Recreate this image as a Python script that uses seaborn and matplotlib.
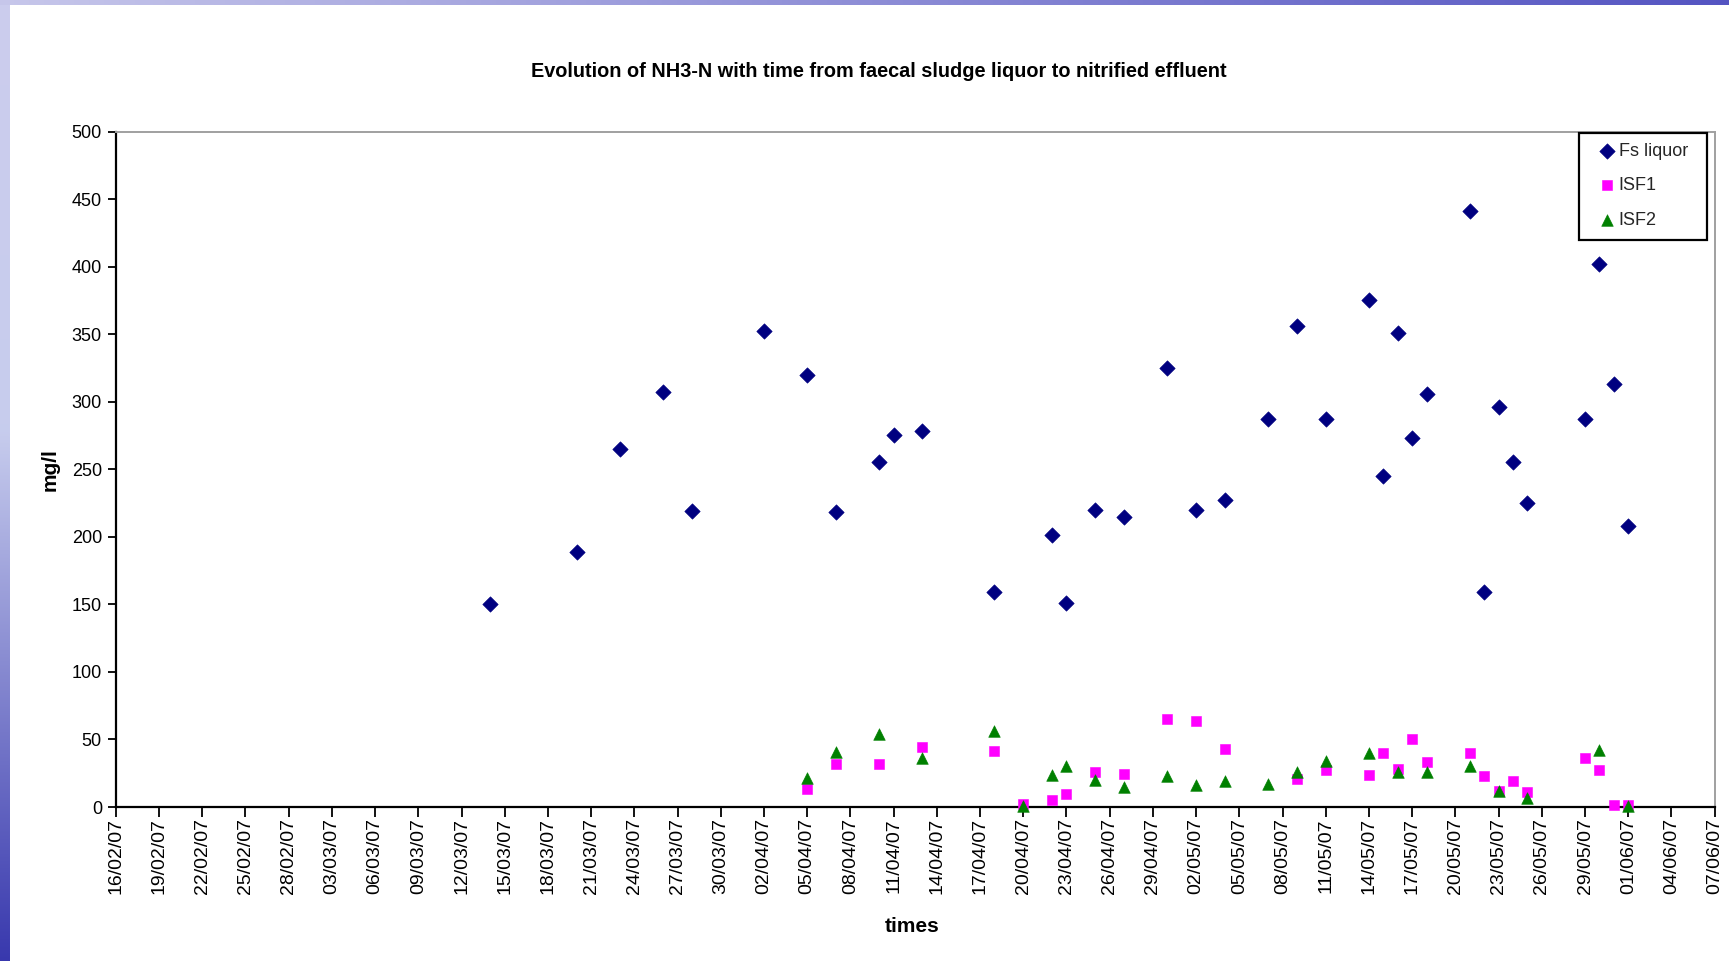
import numpy as np
import pandas as pd
import matplotlib
matplotlib.use("Agg")
import matplotlib.pyplot as plt
import matplotlib.dates as mdates
from matplotlib.patches import Rectangle
import seaborn as sns

# ---------------- data ----------------
fs_dates = ['2007-03-14', '2007-03-20', '2007-03-23', '2007-03-26', '2007-03-28',
            '2007-04-02', '2007-04-05', '2007-04-07', '2007-04-10', '2007-04-11',
            '2007-04-13', '2007-04-18', '2007-04-22', '2007-04-23', '2007-04-25',
            '2007-04-27', '2007-04-30', '2007-05-02', '2007-05-04', '2007-05-07',
            '2007-05-09', '2007-05-11', '2007-05-14', '2007-05-15', '2007-05-16',
            '2007-05-17', '2007-05-18', '2007-05-21', '2007-05-22', '2007-05-23',
            '2007-05-24', '2007-05-25', '2007-05-29', '2007-05-30', '2007-05-31',
            '2007-06-01']
fs_values = [150, 189, 265, 307, 219,
             352, 320, 218, 255, 275,
             278, 159, 201, 151, 220,
             215, 325, 220, 227, 287,
             356, 287, 375, 245, 351,
             273, 306, 441, 159, 296,
             255, 225, 287, 402, 313,
             208]

isf1_dates = ['2007-04-05', '2007-04-07', '2007-04-10', '2007-04-13', '2007-04-18',
              '2007-04-20', '2007-04-22', '2007-04-23', '2007-04-25', '2007-04-27',
              '2007-04-30', '2007-05-02', '2007-05-04', '2007-05-09', '2007-05-11',
              '2007-05-14', '2007-05-15', '2007-05-16', '2007-05-17', '2007-05-18',
              '2007-05-21', '2007-05-22', '2007-05-23', '2007-05-24', '2007-05-25',
              '2007-05-29', '2007-05-30', '2007-05-31', '2007-06-01']
isf1_values = [13.5, 32, 32, 44.5, 41.5,
               2, 5.5, 9.5, 26, 24.5,
               65.5, 64, 43, 20.5, 27.5,
               23.5, 40, 28, 50, 33.5,
               40, 23, 11.5, 19, 11,
               36, 27.5, 1.5, 1.5]

isf2_dates = ['2007-04-05', '2007-04-07', '2007-04-10', '2007-04-13', '2007-04-18',
              '2007-04-20', '2007-04-22', '2007-04-23', '2007-04-25', '2007-04-27',
              '2007-04-30', '2007-05-02', '2007-05-04', '2007-05-07', '2007-05-09',
              '2007-05-11', '2007-05-14', '2007-05-16', '2007-05-18', '2007-05-21',
              '2007-05-23', '2007-05-25', '2007-05-30', '2007-06-01']
isf2_values = [21.5, 41, 54, 36, 56,
               1, 24, 30, 20, 14.5,
               23, 16, 19, 17, 26,
               34, 40, 26, 26, 30,
               12, 7, 42, 1]

series_names = ['Fs liquor', 'ISF1', 'ISF2']
series_colors = ['#000080', '#FF00FF', '#008000']
series_markers = ['D', 's', '^']

x_start = '2007-02-16'
x_end = '2007-06-07'
x_tick_step_days = 3
y_ticks = [0, 50, 100, 150, 200, 250, 300, 350, 400, 450, 500]

title = 'Evolution of NH3-N with time from faecal sludge liquor to nitrified effluent'
x_label = 'times'
y_label = 'mg/l'

# ---------------- frame ----------------
df = pd.concat([
    pd.DataFrame({'date': pd.to_datetime(fs_dates), 'value': fs_values, 'series': 'Fs liquor'}),
    pd.DataFrame({'date': pd.to_datetime(isf1_dates), 'value': isf1_values, 'series': 'ISF1'}),
    pd.DataFrame({'date': pd.to_datetime(isf2_dates), 'value': isf2_values, 'series': 'ISF2'}),
], ignore_index=True)

sns.set_style('white')
plt.rcParams['font.family'] = ['Liberation Sans', 'DejaVu Sans']

W, H = 1729, 961
fig = plt.figure(figsize=(W / 100, H / 100), dpi=100)

# slide background (left and top decorative bands)
bg = np.ones((H, W, 3))
t = np.linspace(0, 1, H)[:, None]
top_c = np.array([0.80, 0.80, 0.93])
mid_c = np.array([0.78, 0.80, 0.93])
bot_c = np.array([0.22, 0.22, 0.68])
col = np.where(t < 0.45, top_c + (mid_c - top_c) * (t / 0.45),
               mid_c + (bot_c - mid_c) * ((t - 0.45) / 0.55))
bg[:, :10, :] = col[:, None, :]
u = np.linspace(0, 1, W)[:, None]
c0 = np.array([0.78, 0.78, 0.92])
c1 = np.array([0.33, 0.33, 0.76])
bg[:5, :, :] = (c0 + (c1 - c0) * u)[None, :, :]
bax = fig.add_axes([0, 0, 1, 1], zorder=-10)
bax.imshow(bg, aspect='auto', extent=(0, 1, 0, 1), interpolation='bilinear')
bax.axis('off')

L, R, T, B = 115.8, 1714.7, 131.5, 807.0
ax = fig.add_axes([L / W, 1 - B / H, (R - L) / W, (B - T) / H])
ax.set_facecolor('white')

sizes = {'Fs liquor': 62, 'ISF1': 60, 'ISF2': 70}
for name, color, marker in zip(series_names, series_colors, series_markers):
    sub = df[df['series'] == name]
    sns.scatterplot(data=sub, x='date', y='value', marker=marker, color=color,
                    edgecolor=color, linewidth=0.4, s=sizes[name], ax=ax,
                    label=name, zorder=3, clip_on=False)

ax.set_xlim(pd.Timestamp(x_start), pd.Timestamp(x_end))
ax.set_ylim(0, 500)
xt = pd.date_range(x_start, x_end, freq=f'{x_tick_step_days}D')
ax.set_xticks(xt)
ax.xaxis.set_major_formatter(mdates.DateFormatter('%d/%m/%y'))
ax.set_yticks(y_ticks)
ax.tick_params(axis='x', which='major', direction='out', length=7, width=1.3,
               color='black', labelsize=14, labelrotation=90, pad=1, bottom=True)
ax.tick_params(axis='y', which='major', direction='out', length=6, width=1.3,
               color='black', labelsize=13, pad=4, left=True)
for lab in ax.get_xticklabels() + ax.get_yticklabels():
    lab.set_color('black')

for s in ['left', 'bottom']:
    ax.spines[s].set_color('black')
    ax.spines[s].set_linewidth(1.6)
for s in ['top', 'right']:
    ax.spines[s].set_color('#a0a0a0')
    ax.spines[s].set_linewidth(1.4)

ax.set_xlabel(x_label, fontsize=15, fontweight='bold', color='black')
ax.set_ylabel(y_label, fontsize=15, fontweight='bold', color='black')
ax.xaxis.set_label_coords((912 - L) / (R - L), (B - 926) / (B - T))
ax.xaxis.label.set_va('center')
ax.yaxis.set_label_coords((50 - L) / (R - L), 0.5)
ax.yaxis.label.set_va('center')

fig.text(879 / W, 1 - 71.7 / H, title, ha='center', va='center',
         fontsize=14.3, fontweight='bold', color='black')

# legend: box drawn as its own rectangle, entries placed inside it
box = Rectangle((1579 / W, 1 - 240 / H), (1707 - 1579) / W, (240 - 133) / H,
                transform=fig.transFigure, facecolor='white', edgecolor='black',
                linewidth=1.6, zorder=5)
fig.add_artist(box)
handles, labels = ax.get_legend_handles_labels()
ax.legend().remove()
leg = fig.legend(handles, labels, loc='upper left',
                 bbox_to_anchor=(1599 / W, 1 - 142.5 / H),
                 frameon=False, fontsize=13,
                 handlelength=0.9, handletextpad=0.2, borderpad=0,
                 labelspacing=0.98, markerscale=1.0, borderaxespad=0)
leg.set_zorder(6)

fig.savefig('out.png', dpi=100)
